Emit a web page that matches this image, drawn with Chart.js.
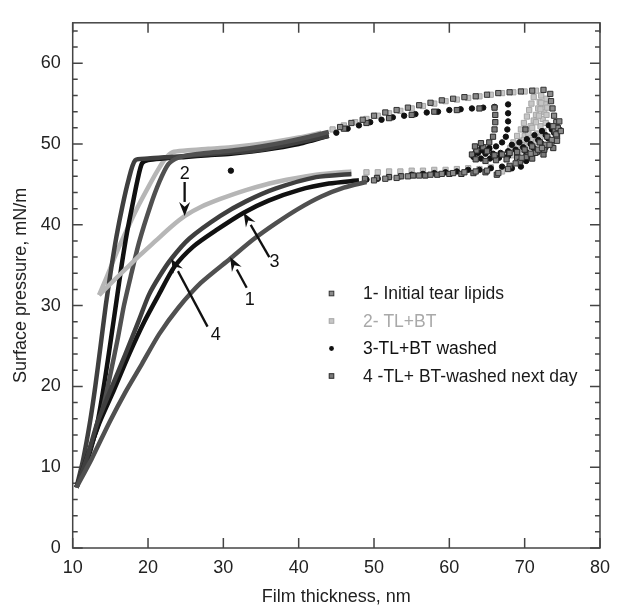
<!DOCTYPE html>
<html>
<head>
<meta charset="utf-8">
<script src="https://cdn.jsdelivr.net/npm/chart.js@4.4.1/dist/chart.umd.min.js"></script>
<style>
  html, body { margin: 0; padding: 0; background: #fff; }
  #wrap { width: 619px; height: 606px; }
</style>
</head>
<body>
<div id="wrap"><canvas id="isotherm" width="619" height="606"></canvas></div>
<script>
// film thickness (nm) vs surface pressure (mN/m)
// each isotherm: dense upper branch, dense lower branch, sparse markers near the right turn
const s1Up = [[10.5,7.5],[12.2,12],[13.8,16.5],[15,21.5],[16,26],[16.8,30],[17.8,34],[18.8,37.8],[20.3,42.3],[21.5,45.3],[22.7,47.5],[24,48.3],[26,48.7],[29,49],[32,49.3],[35,49.7],[38,50.2],[41,50.8],[44,51.5]];
const s1Low = [[10.5,7.5],[12.5,11],[14.9,15.6],[17,19.3],[19.2,22.8],[21.5,26.5],[24,29.7],[27,32.8],[30.9,35.8],[34,38.2],[37,40.2],[40,42],[43,43.5],[46,44.6],[49,45.3]];
const s1Dots = [[45.5,52.1],[47,52.6],[48.5,53],[50,53.5],[51.5,53.9],[53,54.2],[54.5,54.5],[56,54.8],[57.5,55.1],[59,55.4],[60.5,55.6],[62,55.8],[63.5,55.9],[65,56.1],[66.5,56.3],[68,56.4],[69.5,56.5],[71,56.6],[72.5,56.7],[73.4,56.2],[73.5,55.3],[73.7,54.4],[73.9,53.5],[74.2,52.7],[74.4,52],[74.2,51.2],[73.6,50.5],[72.8,49.9],[71.8,49.3],[70.8,48.8],[69.6,48.3],[74.6,52.8],[74.8,51.6],[74.3,50.4],[73.3,49.9],[72.3,49.5],[73.8,52.2],[68.8,47.6],[67.8,46.9],[66.5,46.4],[65,46.7],[63.5,46.6],[62,46.5],[60.5,46.4],[59,46.3],[57.5,46.2],[56,46.1],[54.5,46],[53,45.8],[51.5,45.7],[50,45.5]];

const s2Up = [[13.5,31.3],[14.5,33.5],[15.5,35.8],[16.5,38],[17.6,40.2],[18.8,42.5],[20,44.6],[21.2,46.6],[22.3,48.2],[23.3,49],[25,49.2],[28,49.4],[31,49.6],[34,49.9],[37,50.3],[40,50.8],[43,51.4]];
const s2Low = [[13.5,31.3],[15,32.7],[17,34.5],[19,36.3],[21,38],[23,39.7],[24.9,41.1],[27,42.2],[29.6,43.2],[33,44.3],[37,45.3],[42.3,46.2],[47,46.6]];
const s2Dots = [[44.5,51.8],[46,52.3],[47.5,52.7],[49,53.1],[50.5,53.5],[52,53.8],[53.5,54.1],[55,54.4],[56.5,54.7],[58,55],[59.5,55.3],[61,55.5],[62.5,55.7],[64,55.9],[65.5,56.1],[67,56.3],[68.5,56.4],[70,56.5],[71.5,56.6],[72.2,56],[72,55.2],[71.8,54.4],[71.5,53.6],[71.2,52.9],[70.8,52.2],[70.4,51.6],[70,51],[69.5,50.4],[69,49.8],[68.6,49.2],[68.4,48.6],[69.4,49.2],[70.3,49.8],[71.1,50.5],[71.7,51.3],[72.1,52.2],[72.4,53.1],[72.6,54],[72.7,54.9],[69.8,49.4],[70.8,49.9],[71.6,50.6],[71.2,55.8],[70.9,55],[70.6,54.2],[70.3,53.4],[69.9,52.6],[69.5,51.8],[69,51],[68.5,50.2],[68.1,49.5],[72.9,55.6],[73,54.5],[72.9,53.6],[72.8,52.6],[72.5,51.6],[72.1,50.9],[71.5,50.2],[70.6,49.6],[69.9,50.5],[70.5,51.3],[71,52],[71.5,52.7],[71.9,53.5],[72.1,54.3],[72.2,55.1],[68.2,47],[67,46.6],[65.5,47.1],[64,46.9],[62.5,47],[61,46.9],[59.5,46.8],[58,46.8],[56.5,46.7],[55,46.7],[53.5,46.6],[52,46.6],[50.5,46.5],[49,46.5]];

const s3Up = [[10.5,7.5],[12,11],[13.3,15.6],[14.3,21],[15.1,26],[15.8,30.5],[16.5,35],[17.2,39],[17.9,42.3],[18.6,45.5],[19.2,47.6],[20,48],[22,48.2],[25,48.4],[28,48.6],[31,48.8],[34,49.1],[37,49.5],[40,50],[42,50.5],[44,51]];
const s3Low = [[10.5,7.5],[12,11.5],[13.6,15.6],[15.5,19.6],[17.5,24],[19.5,28],[21.4,31.3],[23.5,34.8],[26,37.3],[29,39.3],[32.7,41.5],[36,43],[40,44.3],[44,45.1],[48,45.5]];
const s3Dots = [[31,46.7],[45,51.4],[46.5,51.9],[48,52.3],[49.5,52.7],[51,53],[52.5,53.3],[54,53.5],[55.5,53.7],[57,53.9],[58.5,54],[60,54.2],[61.5,54.3],[63,54.4],[64.5,54.5],[66,54.6],[67.8,54.9],[67.8,53.8],[67.8,52.8],[67.7,51.8],[67.5,50.9],[67,50.2],[66.2,49.7],[65.3,49.4],[64.4,49.2],[63.5,49],[63.2,48.4],[64.2,48.2],[65.4,48.2],[66.6,48.3],[67.8,48.5],[69,48.7],[70.2,49],[71.2,49.5],[72.2,50.1],[73.1,50.7],[73.9,51.4],[74.4,52.1],[74,50.6],[73,49.8],[71.8,49.1],[70.6,48.5],[63.8,48.9],[64.8,48.8],[65.8,48.8],[66.8,48.9],[67.8,49.1],[68.8,49.3],[69.8,49.6],[70.8,50],[71.8,50.5],[72.8,51.1],[73.6,51.8],[64.3,49.6],[65.3,49.5],[68.3,49.9],[69.3,50.2],[70.3,50.6],[71.3,51.1],[72.3,51.6],[73.2,52.3],[70.2,47.9],[69.5,47.2],[68.3,47],[67,47.2],[65.5,47],[64,46.8],[62.5,46.8],[61,46.6],[59.5,46.5],[58,46.4],[56.5,46.3],[55,46.2],[53.5,46],[52,45.9],[50.5,45.7],[49,45.6]];

const s4Up = [[10.5,7.5],[11.4,11],[12.3,15.6],[13,20],[13.7,25],[14.4,30.1],[15.1,34.5],[15.8,38.5],[16.6,42.3],[17.4,45.5],[18.3,48],[20,48.2],[23,48.4],[26,48.6],[29,48.8],[32,49],[35,49.3],[38,49.8],[41,50.4],[44,51]];
const s4Low = [[10.5,7.5],[12,11.5],[13.3,15.6],[15,19.5],[17,24],[18.8,28.2],[20.1,31.3],[21.5,33.6],[23.1,35.8],[25.5,38.3],[29.6,41.1],[33,42.9],[37,44.5],[42.3,45.9],[47,46.3]];
const s4Dots = [[46,51.9],[49,52.6],[52,53.2],[55,53.6],[58,54],[61,54.2],[64,54.4],[66,54.5],[66.1,53.6],[66.1,52.7],[66,51.8],[65.8,50.9],[65.3,50.2],[64.5,49.6],[63.6,49.2],[63,48.7],[63.5,48.1],[64.8,47.9],[66.2,48],[67.6,48.1],[69,48.3],[70.4,48.6],[71.6,49],[72.7,49.6],[73.6,50.3],[74.3,51],[74.6,51.7],[73.8,49.5],[72.5,48.7],[71,48.2],[63.4,49.7],[64.2,50.1],[65,49.1],[66,48.6],[67,48.7],[68,48.9],[69,49],[70,49.3],[71,49.7],[72,50.2],[73,50.9],[74,51.6],[72.6,49.3],[71.4,48.9],[70.2,48.4],[70.1,51.8],[69.4,47.8],[68,47.3],[66.3,46.2],[64.8,46.5],[63.2,46.4],[61.6,46.3],[60,46.3],[58.4,46.2],[56.8,46.1],[55.2,46.1],[53.6,46],[52,45.9],[50.4,45.8],[48.8,45.7]];

const legendLabels = ['1- Initial tear lipids', '2- TL+BT', '3-TL+BT washed', '4 -TL+ BT-washed next day'];

// numbered arrows: label centre, arrow tail, arrow tip (data units)
const arrowLabels = ['1', '2', '3', '4'];
const arrowText = [[33.5,30.7],[24.86,46.3],[36.8,35.4],[29.0,26.3]];
const arrowTail = [[33.1,32.2],[24.86,45.3],[36.1,36.0],[27.9,27.4]];
const arrowTip = [[30.9,36.0],[24.86,41.1],[32.7,41.5],[23.1,35.8]];

const FONT = '"Liberation Sans", Arial, sans-serif';
const pts = a => a.map(([x, y]) => ({x, y}));

// marker look per series: 1 and 4 dark crossed squares, 2 light grey squares, 3 black dots
const look = [
  {line: '#505050', grain: '#9a9a9a', fill: '#8a8a8a', edge: '#333', style: 'rect', r: 3.7, text: '#1a1a1a'},
  {line: '#b6b6b6', grain: null, fill: '#c6c6c6', edge: '#a6a6a6', style: 'rect', r: 3.7, text: '#a9a9a9'},
  {line: '#111111', grain: null, fill: '#111', edge: '#111', style: 'circle', r: 2.7, text: '#111'},
  {line: '#3f3f3f', grain: '#8c8c8c', fill: '#7a7a7a', edge: '#2a2a2a', style: 'rect', r: 3.7, text: '#1a1a1a'}
];

function lineSet(data, k) {
  return {data: pts(data), showLine: true, borderColor: look[k].line, borderWidth: 4.5,
          pointRadius: 0, tension: 0.25, fill: false};
}
// thin dotted overlay that gives the hatched marker texture of series 1 and 4
function grainSet(data, k) {
  return {data: pts(data), showLine: true, borderColor: look[k].grain, borderWidth: 1.3,
          borderDash: [1.5, 3], pointRadius: 0, tension: 0.25, fill: false};
}
function dotSet(data, k) {
  return {data: pts(data), showLine: false, pointStyle: look[k].style, pointRadius: look[k].r,
          backgroundColor: look[k].fill, borderColor: look[k].edge, borderWidth: 1};
}

const frameTicks = {
  id: 'frameTicks',
  beforeDatasetsDraw(chart) {
    const {ctx, chartArea: a, scales: {x, y}} = chart;
    ctx.save();
    ctx.strokeStyle = '#444';
    ctx.lineWidth = 1.5;
    ctx.strokeRect(a.left, a.top, a.right - a.left, a.bottom - a.top);
    ctx.beginPath();
    x.ticks.forEach(t => {
      const px = x.getPixelForValue(t.value);
      ctx.moveTo(px, a.bottom); ctx.lineTo(px, a.bottom - 10);
      ctx.moveTo(px, a.top); ctx.lineTo(px, a.top + 10);
    });
    for (let v = 0; v <= 64; v += 2) {
      const py = y.getPixelForValue(v);
      const len = v % 10 === 0 ? 10 : 5;
      ctx.moveTo(a.left, py); ctx.lineTo(a.left + len, py);
      ctx.moveTo(a.right, py); ctx.lineTo(a.right - len, py);
    }
    ctx.stroke();
    ctx.restore();
  }
};

const notes = {
  id: 'notes',
  afterDatasetsDraw(chart) {
    const {ctx, scales: {x, y}} = chart;
    ctx.save();
    ctx.strokeStyle = '#111';
    ctx.fillStyle = '#111';
    ctx.lineWidth = 2.3;
    ctx.font = '18px ' + FONT;
    ctx.textAlign = 'center';
    ctx.textBaseline = 'middle';
    arrowLabels.forEach((lab, i) => {
      const tx = x.getPixelForValue(arrowTail[i][0]), ty = y.getPixelForValue(arrowTail[i][1]);
      const hx = x.getPixelForValue(arrowTip[i][0]), hy = y.getPixelForValue(arrowTip[i][1]);
      const ang = Math.atan2(hy - ty, hx - tx);
      const head = 14, half = 5.5;
      const bx = hx - head * Math.cos(ang), by = hy - head * Math.sin(ang);
      ctx.beginPath(); ctx.moveTo(tx, ty); ctx.lineTo(bx, by); ctx.stroke();
      ctx.beginPath();
      ctx.moveTo(hx, hy);
      ctx.lineTo(bx + half * Math.sin(ang), by - half * Math.cos(ang));
      ctx.lineTo(hx - 0.65 * head * Math.cos(ang), hy - 0.65 * head * Math.sin(ang));
      ctx.lineTo(bx - half * Math.sin(ang), by + half * Math.cos(ang));
      ctx.closePath(); ctx.fill();
      ctx.fillText(lab, x.getPixelForValue(arrowText[i][0]), y.getPixelForValue(arrowText[i][1]));
    });

    // legend block inside the plot
    ctx.font = '17.5px ' + FONT;
    ctx.textAlign = 'left';
    legendLabels.forEach((lab, i) => {
      const ly = 293.5 + i * 27.5, lx = 331.5;
      const s = look[i];
      ctx.fillStyle = s.fill;
      ctx.strokeStyle = s.edge;
      ctx.lineWidth = 1;
      if (s.style === 'circle') {
        ctx.beginPath(); ctx.arc(lx, ly, 2.4, 0, Math.PI * 2); ctx.fill();
      } else {
        ctx.fillRect(lx - 2.3, ly - 2.3, 4.6, 4.6);
        ctx.strokeRect(lx - 2.3, ly - 2.3, 4.6, 4.6);
      }
      ctx.fillStyle = s.text;
      ctx.fillText(lab, 363, ly + 1);
    });
    ctx.restore();
  }
};

const ctx = document.getElementById('isotherm').getContext('2d');
new Chart(ctx, {
  type: 'scatter',
  data: {
    datasets: [
      lineSet(s1Low, 0), grainSet(s1Low, 0), lineSet(s4Low, 3), grainSet(s4Low, 3),
      lineSet(s3Low, 2), lineSet(s2Low, 1),
      lineSet(s1Up, 0), grainSet(s1Up, 0), lineSet(s4Up, 3), grainSet(s4Up, 3),
      lineSet(s3Up, 2), lineSet(s2Up, 1),
      dotSet(s1Dots, 0), dotSet(s4Dots, 3), dotSet(s3Dots, 2), dotSet(s2Dots, 1)
    ]
  },
  options: {
    responsive: false,
    animation: false,
    devicePixelRatio: 1,
    layout: { padding: { top: 12.7, right: 10, left: 0, bottom: 0 } },
    scales: {
      x: {
        type: 'linear', min: 10, max: 80,
        afterFit: s => { s.height = 58; },
        grid: { display: false, drawTicks: false },
        border: { display: false },
        ticks: { stepSize: 10, padding: 9, color: '#222', font: { family: FONT, size: 18 } },
        title: { display: true, text: 'Film thickness, nm', color: '#222',
                 font: { family: FONT, size: 18, lineHeight: 1 }, padding: { top: 0, bottom: 0 } }
      },
      y: {
        type: 'linear', min: 0, max: 65,
        afterFit: s => { s.width = 72.7; },
        afterBuildTicks: s => { s.ticks = s.ticks.filter(t => t.value % 10 === 0); },
        grid: { display: false, drawTicks: false },
        border: { display: false },
        ticks: { stepSize: 10, padding: 12, color: '#222', font: { family: FONT, size: 18 } },
        title: { display: true, text: 'Surface pressure, mN/m', color: '#222',
                 font: { family: FONT, size: 18, lineHeight: 1 }, padding: { top: 12, bottom: 0 } }
      }
    },
    plugins: {
      legend: { display: false },
      tooltip: { enabled: false }
    }
  },
  plugins: [frameTicks, notes]
});
</script>
</body>
</html>
